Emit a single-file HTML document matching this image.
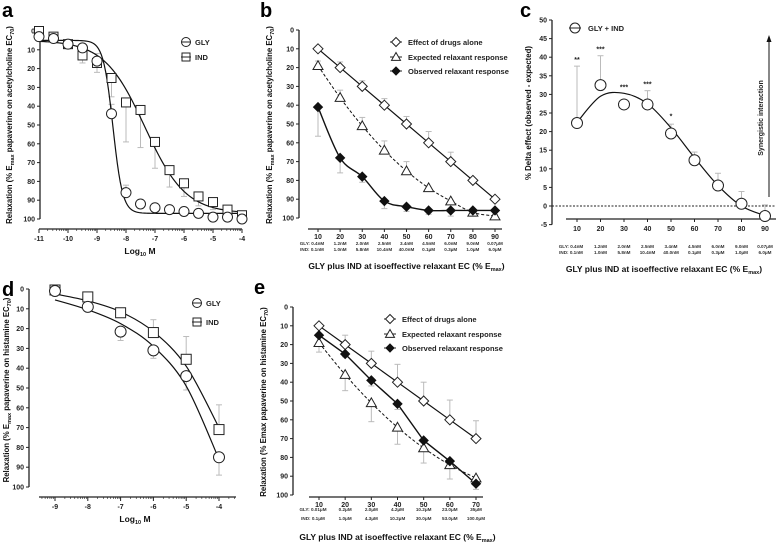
<!DOCTYPE html>
<html><head><meta charset="utf-8">
<style>
html,body{margin:0;padding:0;background:#fff;}
svg{display:block;font-family:"Liberation Sans",Arial,sans-serif;}
.t{font-size:7px;font-weight:bold;fill:#222;}
.lg{font-size:7.5px;font-weight:bold;fill:#222;}
.s{font-size:4.6px;font-weight:bold;fill:#333;}
.ttl{font-size:8.5px;font-weight:bold;fill:#111;}
.vt{font-size:7.8px;font-weight:bold;fill:#111;}
.pl{font-size:20px;font-weight:bold;fill:#000;}
</style></head>
<body>
<svg id="fig" width="778" height="542" viewBox="0 0 778 542" xmlns="http://www.w3.org/2000/svg"></svg>
<script>
// ---- Panel a data ----
const aX = [-11,-10.5,-10,-9.5,-9,-8.5,-8,-7.5,-7,-6.5,-6,-5.5,-5,-4.5,-4];
const aGly = [3,4,7,9,16,44,86,92,94,95,96,97,99,99,100];
const aGlyErr = [0,0,0,0,4,5,4,0,2,0,0,0,0,0,0];
const aInd = [0,3,7,13,17,25,38,42,59,74,81,88,91,95,98];
const aIndErr = [0,0,0,4,5,10,21,20,14,9,7,5,4,0,0];
const aTicks = [-11,-10,-9,-8,-7,-6,-5,-4];
// ---- Panel b data ----
const bCats = [10,20,30,40,50,60,70,80,90];
const bGly = ["GLY: 0.4nM","1.2nM","2.0nM","2.5nM","3.4nM","4.5nM","6.0nM","9.0nM","0.07μM"];
const bInd = ["IND: 0.1nM","1.0nM","5.8nM","10.4nM","40.0nM","0.1μM","0.3μM","1.0μM","6.0μM"];
const bAlone = [10,20,30,40,50,60,70,80,90];
const bAloneErr = [0,3,3,3.5,4,6,5,0,0];
const bExp = [19,36,51,64,75,84,91,97,99];
const bExpErr = [2.5,4,4.5,5,5,0,0,0,0];
const bObs = [41,68,78,91,94,96,96,96,96];
const bObsErr = [15.5,8,3,4,2.5,2,3,3,2];
// ---- Panel c data ----
const cDelta = [22.3,32.5,27.3,27.3,19.5,12.3,5.5,0.6,-2.7];
const cErr = [15.3,7.9,0,3.7,2.5,2.2,3.3,3.3,3];
const cFit = [22.5,29.5,30.3,27.5,21,13,5.5,0,-2.6];
const cStars = ["**","***","***","***","*","","","",""];
const cTicks = [-5,0,5,10,15,20,25,30,35,40,45,50];
// ---- Panel d data ----
const dX = [-9,-8,-7,-6,-5,-4];
const dGly = [1,9,21.5,31,44,85];
const dGlyErr = [0,0,4.5,4,7,9];
const dInd = [0.5,4,12,22,35.5,71];
const dIndErr = [0,0,0,-6.5,-11.5,-12.5];
const dGlyFit = [5.5,10.5,17.5,29,49,86];
const dIndFit = [2.5,6,11.5,21.5,39,70];
// ---- Panel e data ----
const eCats = [10,20,30,40,50,60,70];
const eGly = ["GLY:  0.01μM","0.2μM","2.0μM","4.2μM","10.2μM","23.0μM","35μM"];
const eInd = ["IND:  0.1μM","1.0μM","4.3μM","10.2μM","30.0μM","53.0μM","100.0μM"];
const eAlone = [10,20,30,40,50,60,70];
const eAloneErr = [0,5,6.5,9.5,10,10.5,9.5];
const eExp = [19,36,51,64,75,84,91];
const eExpErr = [5,8.5,10,9,8,7.5,0];
const eObs = [15,25,39,51.5,71,82,94];
const eObsErr = [0,1.5,3,3,0,0,3];

const NS="http://www.w3.org/2000/svg";
const svg=document.getElementById('fig');
function mk(tag,attrs,parent){const e=document.createElementNS(NS,tag);for(const k in attrs)e.setAttribute(k,attrs[k]);(parent||svg).appendChild(e);return e;}
function txt(s,x,y,cls,anchor,parent){const e=mk('text',{x:x,y:y,class:cls,'text-anchor':anchor||'middle'},parent);e.textContent=s;return e;}
function lin(d0,d1,r0,r1){return v=>r0+(v-d0)*(r1-r0)/(d1-d0);}
function spline(pts){let d='M'+pts[0][0]+','+pts[0][1];for(let i=0;i<pts.length-1;i++){const p0=pts[Math.max(0,i-1)],p1=pts[i],p2=pts[i+1],p3=pts[Math.min(pts.length-1,i+2)];d+=' C'+(p1[0]+(p2[0]-p0[0])/6)+','+(p1[1]+(p2[1]-p0[1])/6)+' '+(p2[0]-(p3[0]-p1[0])/6)+','+(p2[1]-(p3[1]-p1[1])/6)+' '+p2[0]+','+p2[1];}return d;}
function marker(type,x,y,g,r){
  r=r||5;
  if(type==='circle')return mk('circle',{cx:x,cy:y,r:r,fill:'#fff',stroke:'#222','stroke-width':1},g);
  if(type==='square')return mk('rect',{x:x-r+0.5,y:y-r+0.5,width:2*r-1,height:2*r-1,fill:'#fff',stroke:'#222','stroke-width':1},g);
  if(type==='diamond')return mk('polygon',{points:`${x},${y-r} ${x+r},${y} ${x},${y+r} ${x-r},${y}`,fill:'#fff',stroke:'#222','stroke-width':1},g);
  if(type==='fdiamond')return mk('polygon',{points:`${x},${y-r+0.5} ${x+r-0.5},${y} ${x},${y+r-0.5} ${x-r+0.5},${y}`,fill:'#111',stroke:'#111','stroke-width':1},g);
  if(type==='triangle')return mk('polygon',{points:`${x},${y-r} ${x+r},${y+r*0.75} ${x-r},${y+r*0.75}`,fill:'#fff',stroke:'#222','stroke-width':1},g);
}
function errbar(x,y0,y1,g){mk('line',{x1:x,y1:y0,x2:x,y2:y1,stroke:'#bbb','stroke-width':1},g);mk('line',{x1:x-3,y1:y1,x2:x+3,y2:y1,stroke:'#bbb','stroke-width':1},g);}
function yAxis(g,x,yS,ticks){mk('line',{x1:x,y1:yS(ticks[0]),x2:x,y2:yS(ticks[ticks.length-1]),stroke:'#222','stroke-width':1.3},g);ticks.forEach(t=>{mk('line',{x1:x-3,y1:yS(t),x2:x,y2:yS(t),stroke:'#222'},g);txt(String(t),x-5,yS(t)+2.5,'t','end',g);});}
function vtitle(g,x,y,html){const e=mk('text',{x:0,y:0,class:'vt','text-anchor':'middle',transform:`translate(${x},${y}) rotate(-90)`},g);e.innerHTML=html;return e;}
const y0to100=[0,10,20,30,40,50,60,70,80,90,100];

// ===== Panel a =====
(function(){
 const g=mk('g',{});
 txt('a',2,17,'pl','start',g);
 const xS=lin(-11,-4,39,242),yS=lin(0,100,31,219);
 yAxis(g,40,yS,y0to100);
 mk('line',{x1:39,y1:229,x2:242,y2:229,stroke:'#222','stroke-width':1.3},g);
 aTicks.forEach(t=>{mk('line',{x1:xS(t),y1:229,x2:xS(t),y2:233,stroke:'#222'},g);txt(String(t),xS(t),241,'t','middle',g);
   if(t<-4)for(let k=2;k<10;k++){const xm=xS(t+Math.log10(k));mk('line',{x1:xm,y1:229,x2:xm,y2:231,stroke:'#222','stroke-width':0.6},g);}});
 const xl=txt('',140,254,'ttl','middle',g);xl.innerHTML='Log<tspan font-size="5.5" dy="2">10</tspan><tspan dy="-2"> M</tspan>';
 vtitle(g,12,125,'Relaxation (% E<tspan font-size="5.5" dy="2">max</tspan><tspan dy="-2"> papaverine on acetylcholine EC</tspan><tspan font-size="5.5" dy="2">70</tspan><tspan dy="-2">)</tspan>');
 aX.forEach((x,i)=>{if(aGlyErr[i])errbar(xS(x),yS(aGly[i]),yS(aGly[i]-aGlyErr[i]),g);if(aIndErr[i])errbar(xS(x),yS(aInd[i]),yS(aInd[i]+aIndErr[i]),g);});
 const hill=(x,ec,h)=>5+92/(1+Math.pow(10,(ec-x)*h));
 let p1='',p2='';for(let x=-11;x<=-4.0001;x+=0.05){p1+=(p1?'L':'M')+xS(x)+','+yS(hill(x,-8.45,2.6));p2+=(p2?'L':'M')+xS(x)+','+yS(hill(x,-7.35,0.62));}
 mk('path',{d:p1,fill:'none',stroke:'#111','stroke-width':1.2},g);mk('path',{d:p2,fill:'none',stroke:'#111','stroke-width':1.2},g);
 aX.forEach((x,i)=>{const m=marker('square',xS(x),yS(aInd[i]),g);});
 aX.forEach((x,i)=>{const m=marker('circle',xS(x),yS(aGly[i]),g);});
 marker('circle',186,42,g,4.5);mk('line',{x1:181,y1:42,x2:191,y2:42,stroke:'#222'},g);txt('GLY',195,45,'lg','start',g);
 marker('square',186,57,g,4.5);mk('line',{x1:181,y1:57,x2:191,y2:57,stroke:'#222'},g);txt('IND',195,60,'lg','start',g);
})();

function combPanel(name,letter,ox,oy,ax,rows,cats,glyL,indL,alone,aloneE,exp,expE,obs,obsE,smoothObs,yLabel,xr){
 const g=mk('g',{});
 txt(letter,ox-39,oy+17,'pl','start',g);
 const yS=lin(0,100,oy+30,oy+218),xS=lin(cats[0],cats[cats.length-1],xr[0],xr[1]);
 yAxis(g,ox,yS,y0to100);
 mk('line',{x1:xr[0]-10,y1:ax,x2:xr[1]+7,y2:ax,stroke:'#222','stroke-width':1.3},g);
 cats.forEach((c,i)=>{mk('line',{x1:xS(c),y1:ax,x2:xS(c),y2:ax+3,stroke:'#222'},g);txt(String(c),xS(c),ax+10,'t','middle',g);txt(glyL[i],xS(c)+(i==0?-6:0),rows[0],'s','middle',g);txt(indL[i],xS(c)+(i==0?-6:0),rows[1],'s','middle',g);});
 const xt=txt('',(xr[0]+xr[1])/2,rows[2],'ttl','middle',g);xt.innerHTML='GLY plus IND at isoeffective relaxant EC (% E<tspan font-size="5.5" dy="2">max</tspan><tspan dy="-2">)</tspan>';
 vtitle(g,ox-27,oy+125,yLabel);
 cats.forEach((c,i)=>{if(aloneE[i])errbar(xS(c),yS(alone[i]),yS(alone[i]-aloneE[i]),g);if(expE[i])errbar(xS(c),yS(exp[i]),yS(exp[i]+(letter=='b'?-expE[i]:expE[i])),g);if(obsE[i])errbar(xS(c),yS(obs[i]),yS(obs[i]+obsE[i]),g);});
 const pA=cats.map((c,i)=>[xS(c),yS(alone[i])]),pE=cats.map((c,i)=>[xS(c),yS(exp[i])]),pO=cats.map((c,i)=>[xS(c),yS(obs[i])]);
 mk('path',{d:'M'+pA.join('L'),fill:'none',stroke:'#111','stroke-width':1.2},g);
 mk('path',{d:spline(pE),fill:'none',stroke:'#111','stroke-width':1,'stroke-dasharray':'3,2'},g);
 mk('path',{d:smoothObs?spline(pO):'M'+pO.join('L'),fill:'none',stroke:'#111','stroke-width':1.4},g);
 pA.forEach(p=>{const m=marker('diamond',p[0],p[1],g);});
 pE.forEach(p=>{const m=marker('triangle',p[0],p[1],g);});
 pO.forEach(p=>{const m=marker('fdiamond',p[0],p[1],g);});
 const lx=ox+97,ly=[oy+42,oy+57,oy+71],lt=['Effect of drugs alone','Expected relaxant response','Observed relaxant response'],lm=['diamond','triangle','fdiamond'];
 ly.forEach((y,i)=>{mk('line',{x1:lx-6,y1:y,x2:lx+6,y2:y,stroke:'#222'},g);marker(lm[i],lx,y,g,4.5);txt(lt[i],lx+12,y+3,'lg','start',g);});
}
combPanel('panel-b','b',299,0,229,[245,251,269],bCats,bGly,bInd,bAlone,bAloneErr,bExp,bExpErr,bObs,bObsErr,true,'Relaxation (% E<tspan font-size="5.5" dy="2">max</tspan><tspan dy="-2"> papaverine on acetylcholine EC</tspan><tspan font-size="5.5" dy="2">70</tspan><tspan dy="-2">)</tspan>',[318,495]);
combPanel('panel-e','e',293,277,497,[511,520,540],eCats,eGly,eInd,eAlone,eAloneErr,eExp,eExpErr,eObs,eObsErr,false,'Relaxation (% Emax papaverine on histamine EC<tspan font-size="5.5" dy="2">70</tspan><tspan dy="-2">)</tspan>',[319,476]);

// ===== Panel c =====
(function(){
 const g=mk('g',{});
 txt('c',520,17,'pl','start',g);
 const yS=lin(0,50,206,20),xS=lin(10,90,577,765);
 yAxis(g,552,yS,cTicks);
 mk('line',{x1:566,y1:219,x2:776,y2:219,stroke:'#222','stroke-width':1.3},g);
 mk('line',{x1:552,y1:yS(0),x2:776,y2:yS(0),stroke:'#222','stroke-dasharray':'2,1.5'},g);
 bCats.forEach((c,i)=>{mk('line',{x1:xS(c),y1:219,x2:xS(c),y2:222,stroke:'#222'},g);txt(String(c),xS(c),231,'t','middle',g);txt(bGly[i],xS(c)+(i==0?-6:0),248,'s','middle',g);txt(bInd[i],xS(c)+(i==0?-6:0),254,'s','middle',g);});
 const xt=txt('',664,272,'ttl','middle',g);xt.innerHTML='GLY plus IND at isoeffective relaxant EC (% E<tspan font-size="5.5" dy="2">max</tspan><tspan dy="-2">)</tspan>';
 vtitle(g,531,113,'% Delta effect (observed - expected)');
 bCats.forEach((c,i)=>{if(cErr[i])errbar(xS(c),yS(cDelta[i]),yS(cDelta[i]+cErr[i]),g);if(cStars[i])txt(cStars[i],xS(c),yS(Math.max(cDelta[i]+cErr[i],cDelta[i]+3))-4,'t','middle',g);});
 mk('path',{d:spline(bCats.map((c,i)=>[xS(c),yS(cFit[i])])),fill:'none',stroke:'#111','stroke-width':1.2},g);
 bCats.forEach((c,i)=>{const m=marker('circle',xS(c),yS(cDelta[i]),g,5.5);});
 marker('circle',575,28,g,5);mk('line',{x1:569,y1:28,x2:581,y2:28,stroke:'#222'},g);txt('GLY + IND',588,31,'lg','start',g);
 mk('line',{x1:769,y1:197,x2:769,y2:40,stroke:'#111','stroke-width':1},g);mk('polygon',{points:'769,35 766.5,42 771.5,42',fill:'#111'},g);
 const s=mk('text',{x:0,y:0,class:'t','text-anchor':'middle',transform:'translate(763,118) rotate(-90)'},g);s.textContent='Synergistic interaction';
})();

// ===== Panel d =====
(function(){
 const g=mk('g',{});
 txt('d',2,296,'pl','start',g);
 const xS=lin(-9,-4,55,219),yS=lin(0,100,289,487);
 yAxis(g,29,yS,y0to100);
 mk('line',{x1:39,y1:497,x2:236,y2:497,stroke:'#222','stroke-width':1.3},g);
 dX.forEach(t=>{mk('line',{x1:xS(t),y1:497,x2:xS(t),y2:501,stroke:'#222'},g);txt(String(t),xS(t),509,'t','middle',g);});
 for(let t=-10;t<=-4;t++)for(let k=2;k<10;k++){const xm=xS(t+Math.log10(k));if(xm>39&&xm<236)mk('line',{x1:xm,y1:497,x2:xm,y2:499,stroke:'#222','stroke-width':0.6},g);}
 const xl=txt('',135,522,'ttl','middle',g);xl.innerHTML='Log<tspan font-size="5.5" dy="2">10</tspan><tspan dy="-2"> M</tspan>';
 vtitle(g,9,390,'Relaxation (% E<tspan font-size="5.5" dy="2">max</tspan><tspan dy="-2"> papaverine on histamine EC</tspan><tspan font-size="5.5" dy="2">70</tspan><tspan dy="-2">)</tspan>');
 dX.forEach((x,i)=>{if(dGlyErr[i])errbar(xS(x),yS(dGly[i]),yS(dGly[i]+dGlyErr[i]),g);if(dIndErr[i])errbar(xS(x),yS(dInd[i]),yS(dInd[i]+dIndErr[i]),g);});
 mk('path',{d:spline(dX.map((x,i)=>[xS(x),yS(dGlyFit[i])])),fill:'none',stroke:'#111','stroke-width':1.2},g);
 mk('path',{d:spline(dX.map((x,i)=>[xS(x),yS(dIndFit[i])])),fill:'none',stroke:'#111','stroke-width':1.2},g);
 dX.forEach((x,i)=>{const m=marker('square',xS(x),yS(dInd[i]),g,5.5);});
 dX.forEach((x,i)=>{const m=marker('circle',xS(x),yS(dGly[i]),g,5.5);});
 marker('circle',197,303,g,4.5);mk('line',{x1:192,y1:303,x2:202,y2:303,stroke:'#222'},g);txt('GLY',206,306,'lg','start',g);
 marker('square',197,322,g,4.5);mk('line',{x1:192,y1:322,x2:202,y2:322,stroke:'#222'},g);txt('IND',206,325,'lg','start',g);
})();
</script>
</body></html>
